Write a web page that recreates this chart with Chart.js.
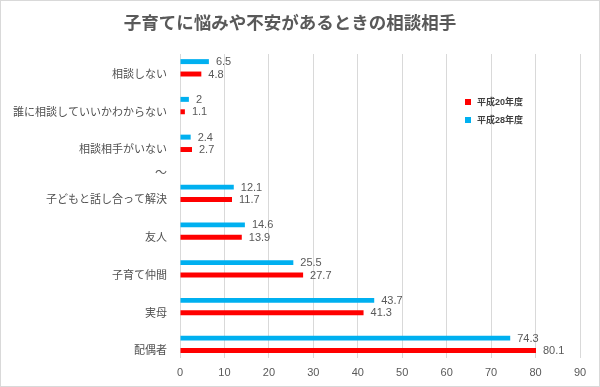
<!DOCTYPE html>
<html lang="ja">
<head>
<meta charset="utf-8">
<title>子育てに悩みや不安があるときの相談相手</title>
<script src="https://cdn.jsdelivr.net/npm/chart.js@4.4.1/dist/chart.umd.min.js"></script>
<style>
  html, body { margin: 0; padding: 0; background: #fff; }
  #wrap { position: relative; width: 600px; height: 387px; }
</style>
</head>
<body>
<div id="wrap"><canvas id="consultChart"></canvas></div>
<script>
const titleText = '子育てに悩みや不安があるときの相談相手';
const categories = ['相談しない', '誰に相談していいかわからない', '相談相手がいない',
    '子どもと話し合って解決', '友人', '子育て仲間', '実母', '配偶者'];
const breakLabel = '～';
const seriesNames = ['平成28年度', '平成20年度'];
const valuesH28 = [6.5, 2, 2.4, 12.1, 14.6, 25.5, 43.7, 74.3];
const valuesH20 = [4.8, 1.1, 2.7, 11.7, 13.9, 27.7, 41.3, 80.1];
const xTicks = [0, 10, 20, 30, 40, 50, 60, 70, 80, 90];

// the "～" row sits in a slightly wider gap after the 3rd category
const breakAfter = 2;
const breakGap = 0.325;
const breakPos = 2.81;
const rowPos = categories.map((c, i) => i + (i > breakAfter ? breakGap : 0));

const grey = '#595959';
const fontFamily = '"Liberation Sans", "Noto Sans CJK JP", sans-serif';
Chart.defaults.font.family = fontFamily;
Chart.defaults.color = grey;

// white background + thin frame
const framePlugin = {
    id: 'frame',
    beforeDraw(chart) {
        const c = chart.ctx;
        c.save();
        c.fillStyle = '#fff';
        c.fillRect(0, 0, chart.width, chart.height);
        c.restore();
    },
    afterDraw(chart) {
        const c = chart.ctx;
        c.save();
        c.strokeStyle = '#d9d9d9';
        c.lineWidth = 1;
        c.strokeRect(0.5, 0.5, chart.width - 1, chart.height - 1);
        c.restore();
    }
};

// value labels at bar ends, "～" break label, legend box
const labelsPlugin = {
    id: 'barLabels',
    afterDatasetsDraw(chart) {
        const c = chart.ctx;
        c.save();
        c.font = '11px ' + fontFamily;
        c.fillStyle = grey;
        c.textBaseline = 'middle';
        c.textAlign = 'left';
        chart.data.datasets.forEach((ds, di) => {
            chart.getDatasetMeta(di).data.forEach((bar, i) => {
                c.fillText(String(ds.data[i].x), bar.x + 7, bar.y + 0.5);
            });
        });

        // break marker
        const yScale = chart.scales.y;
        c.font = '12px ' + fontFamily;
        c.textAlign = 'right';
        c.fillText(breakLabel, yScale.right - 13, yScale.getPixelForValue(breakPos));

        // legend (older year first)
        c.font = 'bold 9px ' + fontFamily;
        c.textAlign = 'left';
        const order = [1, 0];
        order.forEach((di, k) => {
            const ds = chart.data.datasets[di];
            const y = 102 + k * 18;
            c.fillStyle = ds.backgroundColor;
            c.fillRect(465, y - 3, 6, 6);
            c.fillStyle = '#404040';
            c.fillText(ds.label, 477, y + 0.5);
        });
        c.restore();
    }
};

const ctx = document.getElementById('consultChart').getContext('2d');
const chart = new Chart(ctx, {
    type: 'bar',
    data: {
        datasets: [{
            label: seriesNames[0],
            data: valuesH28.map((v, i) => ({ x: v, y: rowPos[i] })),
            backgroundColor: '#00b0f0'
        }, {
            label: seriesNames[1],
            data: valuesH20.map((v, i) => ({ x: v, y: rowPos[i] })),
            backgroundColor: '#ff0000'
        }]
    },
    options: {
        indexAxis: 'y',
        responsive: true,
        maintainAspectRatio: false,
        animation: false,
        categoryPercentage: 0.657,
        barPercentage: 0.4,
        layout: { padding: { left: 0, right: 20, top: 0, bottom: 0 } },
        scales: {
            x: {
                type: 'linear',
                min: 0,
                max: 90,
                afterBuildTicks: (s) => { s.ticks = xTicks.map(v => ({ value: v })); },
                afterFit: (s) => { s.height = 29; },
                grid: { color: '#d9d9d9', drawTicks: false },
                border: { display: false },
                ticks: { padding: 8, color: grey, font: { size: 11 } }
            },
            y: {
                type: 'linear',
                offset: false,
                reverse: true,
                min: -0.366,
                max: 7.687,
                afterBuildTicks: (s) => { s.ticks = rowPos.map(v => ({ value: v })); },
                afterFit: (s) => { s.width = 180; },
                grid: { display: false, drawTicks: false, offset: false },
                border: { display: false },
                ticks: {
                    padding: 13,
                    labelOffset: 7,
                    color: '#505050',
                    font: { size: 11 },
                    autoSkip: false,
                    callback: (v, i) => categories[i]
                }
            }
        },
        plugins: {
            legend: { display: false },
            tooltip: { enabled: false },
            title: {
                display: true,
                text: titleText,
                color: grey,
                font: { size: 17.5, weight: 'bold' },
                padding: { top: 14, bottom: 19 }
            }
        }
    },
    plugins: [framePlugin, labelsPlugin]
});
</script>
</body>
</html>
